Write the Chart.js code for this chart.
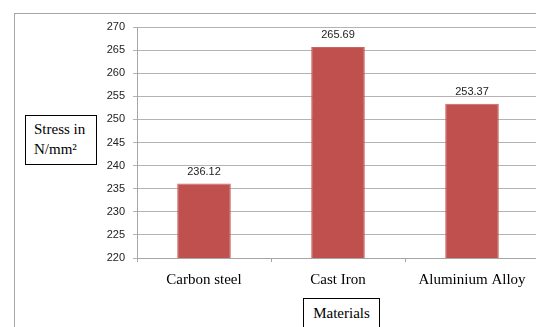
<!DOCTYPE html>
<html>
<head>
<meta charset="utf-8">
<script src="https://cdn.jsdelivr.net/npm/chart.js@4"></script>
<style>
html,body{margin:0;padding:0;background:#fff;overflow:hidden;width:536px;height:327px;}
#wrap{position:relative;width:536px;height:327px;overflow:hidden;}
#frame{position:absolute;left:14px;top:13px;width:700px;height:500px;border-left:1px solid #a6a6a6;border-top:1px solid #a6a6a6;}
canvas{position:absolute;left:0;top:0;}
.tbox{position:absolute;border:1px solid #000;background:#fff;font-family:"Liberation Serif","Times New Roman",serif;font-size:15px;color:#000;box-sizing:border-box;}
#ytitle{left:25px;top:115px;width:72px;height:50px;padding:3px 0 0 8px;line-height:20px;}
#xtitle{left:303px;top:298px;width:77px;height:40px;text-align:center;padding-top:4px;line-height:20px;}
</style>
</head>
<body>
<div id="wrap">
<div id="frame"></div>
<canvas id="c" width="540" height="327"></canvas>
<div class="tbox" id="ytitle">Stress in<br>N/mm²</div>
<div class="tbox" id="xtitle">Materials</div>
</div>
<script>
const categories = ["Carbon steel", "Cast Iron", "Aluminium Alloy"];
const stressValues = [236.12, 265.69, 253.37];
const yMin = 220, yMax = 270, yStep = 5;

const valueLabels = {
  id: 'valueLabels',
  afterDatasetsDraw(chart) {
    const ctx = chart.ctx;
    const meta = chart.getDatasetMeta(0);
    ctx.save();
    ctx.font = '11px "Liberation Sans", Arial, sans-serif';
    ctx.fillStyle = '#222';
    ctx.textAlign = 'center';
    ctx.textBaseline = 'alphabetic';
    meta.data.forEach((bar, i) => {
      ctx.fillText(stressValues[i].toFixed(2), bar.x, bar.y - 9);
    });
    ctx.restore();
  }
};

new Chart(document.getElementById('c'), {
  type: 'bar',
  data: {
    labels: categories,
    datasets: [{
      data: stressValues,
      backgroundColor: '#C0504D',
      borderColor: '#C96461',
      borderWidth: 1,
      categoryPercentage: 1.0,
      barPercentage: 0.4
    }]
  },
  options: {
    responsive: false,
    animation: false,
    layout: { padding: { top: 27, right: 1, left: 0, bottom: 0 } },
    plugins: { legend: { display: false }, tooltip: { enabled: false } },
    scales: {
      x: {
        offset: true,
        grid: { display: true, drawOnChartArea: false, offset: true, color: '#a6a6a6', tickLength: 4 },
        border: { color: '#a6a6a6' },
        ticks: { color: '#000', font: { family: '"Liberation Serif", "Times New Roman", serif', size: 15 }, padding: 9, maxRotation: 0 },
        afterFit(scale) { scale.height = 69; }
      },
      y: {
        min: yMin, max: yMax,
        grid: { color: '#b3b3b3', tickLength: 4 },
        border: { color: '#a6a6a6' },
        ticks: { stepSize: yStep, color: '#222', font: { family: '"Liberation Sans", Arial, sans-serif', size: 11 }, padding: 8 },
        afterFit(scale) { scale.width = 137; }
      }
    }
  },
  plugins: [valueLabels]
});
</script>
</body>
</html>
